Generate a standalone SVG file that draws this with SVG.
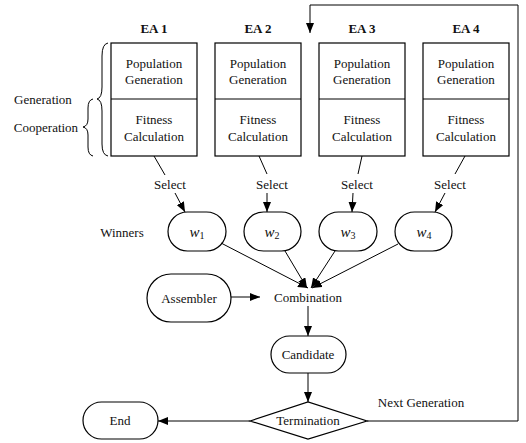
<svg xmlns="http://www.w3.org/2000/svg" width="526" height="443" viewBox="0 0 526 443">
<defs>
<marker id="ah" viewBox="0 0 10 8" refX="10" refY="4" markerWidth="10" markerHeight="8" markerUnits="userSpaceOnUse" orient="auto">
<path d="M0,0 L10,4 L0,8 Z" fill="#000"/>
</marker>
</defs>
<style>
text{font-family:"Liberation Serif","Times New Roman",serif;font-size:13px;fill:#111;text-anchor:middle;dominant-baseline:central}
.b{font-weight:bold}
.it{font-style:italic;font-size:15px}
.sub{font-size:10px}
.box{fill:#fff;stroke:#000;stroke-width:1.2}
.ln{fill:none;stroke:#000;stroke-width:1}
.ar{fill:none;stroke:#000;stroke-width:1;marker-end:url(#ah)}
</style>
<rect width="526" height="443" fill="#fff"/>

<g id="braces">
<path class="ln" d="M108,43 Q102,44 102,56 L102,87 Q102,98 97,99 Q102,100 102,111 L102,144 Q102,155 108,156"/>
<path class="ln" d="M93,99 Q88,100 88,108 L88,119 Q88,126 83,127 Q88,128 88,135 L88,147 Q88,155 93,156"/>
<text x="43" y="99">Generation</text>
<text x="46" y="127">Cooperation</text>
<text x="122" y="232">Winners</text>
</g>

<g id="ea1">
<text class="b" x="154" y="28">EA 1</text>
<rect class="box" x="111" y="43" width="86" height="113"/>
<line class="ln" x1="111" y1="99" x2="197" y2="99"/>
<text x="154" y="63">Population</text>
<text x="154" y="79">Generation</text>
<text x="154" y="119">Fitness</text>
<text x="154" y="136">Calculation</text>
</g>
<g id="ea2">
<text class="b" x="258" y="28">EA 2</text>
<rect class="box" x="215" y="43" width="86" height="113"/>
<line class="ln" x1="215" y1="99" x2="301" y2="99"/>
<text x="258" y="63">Population</text>
<text x="258" y="79">Generation</text>
<text x="258" y="119">Fitness</text>
<text x="258" y="136">Calculation</text>
</g>
<g id="ea3">
<text class="b" x="362" y="28">EA 3</text>
<rect class="box" x="319" y="43" width="86" height="113"/>
<line class="ln" x1="319" y1="99" x2="405" y2="99"/>
<text x="362" y="63">Population</text>
<text x="362" y="79">Generation</text>
<text x="362" y="119">Fitness</text>
<text x="362" y="136">Calculation</text>
</g>
<g id="ea4">
<text class="b" x="466" y="28">EA 4</text>
<rect class="box" x="423" y="43" width="86" height="113"/>
<line class="ln" x1="423" y1="99" x2="509" y2="99"/>
<text x="466" y="63">Population</text>
<text x="466" y="79">Generation</text>
<text x="466" y="119">Fitness</text>
<text x="466" y="136">Calculation</text>
</g>

<g id="w1">
<rect class="box" x="168" y="212" width="58" height="39" rx="19.5"/>
<text x="197" y="232"><tspan class="it">w</tspan><tspan class="sub" dy="3">1</tspan></text>
</g>
<g id="w2">
<rect class="box" x="244" y="212" width="57" height="39" rx="19.5"/>
<text x="272" y="232"><tspan class="it">w</tspan><tspan class="sub" dy="3">2</tspan></text>
</g>
<g id="w3">
<rect class="box" x="319" y="212" width="58" height="39" rx="19.5"/>
<text x="348" y="232"><tspan class="it">w</tspan><tspan class="sub" dy="3">3</tspan></text>
</g>
<g id="w4">
<rect class="box" x="395" y="212" width="57" height="39" rx="19.5"/>
<text x="424" y="232"><tspan class="it">w</tspan><tspan class="sub" dy="3">4</tspan></text>
</g>

<g id="assembler">
<rect class="box" x="147" y="274" width="84" height="48" rx="24"/>
<text x="189" y="298">Assembler</text>
</g>
<g id="combination">
<text x="308" y="297">Combination</text>
</g>
<g id="candidate">
<rect class="box" x="271" y="336" width="75" height="37" rx="18.5"/>
<text x="308" y="354">Candidate</text>
</g>
<g id="termination">
<polygon class="box" points="250,421 308,402 367,421 308,439"/>
<text x="308" y="420">Termination</text>
</g>
<g id="end">
<rect class="box" x="83" y="402" width="75" height="37" rx="18.5"/>
<text x="120" y="420">End</text>
</g>

<g id="connectors">
<line class="ln" x1="154" y1="156" x2="165" y2="175"/>
<text x="170" y="184">Select</text>
<line class="ar" x1="175" y1="193" x2="185" y2="212"/>

<line class="ln" x1="259" y1="156" x2="267" y2="174"/>
<text x="272" y="184">Select</text>
<line class="ar" x1="267" y1="193" x2="267" y2="212"/>

<line class="ln" x1="362" y1="156" x2="358" y2="174"/>
<text x="357" y="184">Select</text>
<line class="ar" x1="353" y1="193" x2="352" y2="212"/>

<line class="ln" x1="465" y1="156" x2="455" y2="174"/>
<text x="450" y="184">Select</text>
<line class="ar" x1="445" y1="193" x2="435" y2="212"/>

<line class="ar" x1="221" y1="243" x2="308" y2="288"/>
<line class="ar" x1="285" y1="251" x2="307" y2="288"/>
<line class="ar" x1="335" y1="251" x2="311" y2="288"/>
<line class="ar" x1="398" y1="244" x2="312" y2="288"/>

<line class="ar" x1="231" y1="297" x2="260" y2="297"/>
<line class="ar" x1="308" y1="306" x2="308" y2="336"/>
<line class="ar" x1="308" y1="373" x2="308" y2="402"/>
<line class="ar" x1="250" y1="421" x2="158" y2="421"/>
<polyline class="ar" points="367,421 518,421 518,5 310,5 310,33"/>
<text x="421" y="402">Next Generation</text>
</g>
</svg>
